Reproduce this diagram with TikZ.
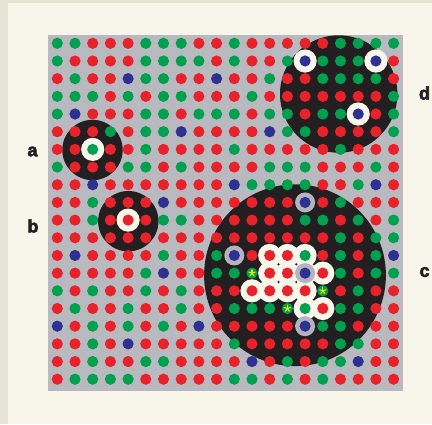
\documentclass[tikz,border=0pt]{standalone}
\usepackage{fontspec}
\newfontfamily\labfont[BoldFeatures={FakeBold=3}]{Liberation Sans}
\definecolor{cream}{HTML}{F8F6EA}
\definecolor{edge}{HTML}{E6E4D5}
\definecolor{plate}{HTML}{B9BABF}
\definecolor{dR}{HTML}{E8222A}
\definecolor{dG}{HTML}{00A04F}
\definecolor{dB}{HTML}{2E3192}
\definecolor{blk}{HTML}{231F20}
\definecolor{ringgray}{HTML}{B3B4BE}
\definecolor{staryellow}{HTML}{F2E600}
\tikzset{
  lab/.style={font=\labfont\bfseries\fontsize{18}{18}\selectfont, text=blk, inner sep=0pt},
  hole/.style={fill=blk},
  whitering/.style={fill=cream},
  grayring/.style={fill=ringgray},
  starline/.style={draw=staryellow, line width=1.1pt, line cap=round}
}
\begin{document}
\begin{tikzpicture}[x=1pt,y=-1pt]
\useasboundingbox (0,0) rectangle (432,424);
\fill[cream] (0,0) rectangle (432,424);
\fill[edge] (0,0) rectangle (432,3);
\fill[edge] (0,0) rectangle (8,424);
% plate
\fill[plate] (48.3,34.5) rectangle (402.7,390.5);
\begin{scope}
\clip (48.3,34.5) rectangle (402.7,390.5);
\fill[hole] (92.5,150) circle[radius=30.2pt];
\fill[hole] (128.3,221.2) circle[radius=30.2pt];
\fill[hole] (338.7,94) circle[radius=58.7pt];
\fill[hole] (295,275.2) circle[radius=90.9pt];
\end{scope}
% grid scope
\begin{scope}[x=17.7pt, y=-17.68pt, shift={(39.6pt,-25.62pt)}]
\foreach \i/\j in {3/7,5/11,15/2,19/2,18/5,
  13/13,14/13,15/13,13/14,14/14,15/14,16/14,12/15,13/15,14/15,15/15,15/16,16/16}
  \fill[whitering] (\i,\j) circle[radius=11.6pt];
\foreach \i/\j in {15/10,11/13,15/14,15/17}
  \fill[grayring] (\i,\j) circle[radius=10pt];
\foreach \r [count=\j] in {
 {G,G,R,R,R,G,G,G,R,R,G,R,R,R,R,R,G,G,G,G},
 {G,R,R,R,R,G,G,G,G,R,G,R,R,G,B,G,G,G,B,R},
 {R,G,R,R,B,G,G,R,R,B,R,R,G,R,R,G,G,G,G,R},
 {G,G,G,R,G,R,G,G,R,R,R,G,R,R,R,R,R,R,R,G},
 {G,B,R,R,R,G,G,R,G,G,G,R,G,G,R,G,G,B,R,G},
 {R,R,R,G,R,G,G,B,R,R,R,R,B,G,G,R,R,R,R,G},
 {R,R,G,R,R,G,R,R,R,R,G,R,R,R,R,R,G,R,R,R},
 {G,R,R,R,G,G,R,G,R,R,R,R,G,G,G,R,R,R,G,R},
 {R,R,B,R,R,R,R,R,R,R,B,G,G,G,G,R,R,G,B,R},
 {R,R,G,R,R,R,B,R,R,R,R,R,R,R,B,R,G,R,R,R},
 {R,R,G,R,R,R,G,G,R,R,R,R,R,R,G,G,R,G,R,G},
 {R,R,R,R,R,R,R,R,R,R,R,R,R,R,R,R,G,R,G,G},
 {R,B,R,R,R,R,G,R,R,G,B,R,R,R,G,R,G,R,G,B},
 {R,R,R,R,R,G,B,R,R,G,G,G,R,R,B,R,G,R,G,G},
 {G,R,G,R,R,G,R,G,R,R,R,R,R,R,R,G,R,G,R,R},
 {R,G,R,R,G,R,R,G,R,R,G,G,G,G,G,R,G,G,R,R},
 {B,R,G,R,G,R,G,R,B,R,R,R,R,R,B,G,G,R,R,R},
 {R,R,G,R,B,R,R,R,R,R,G,R,R,R,R,R,G,G,R,R},
 {R,R,G,R,R,G,G,R,R,R,R,B,R,G,R,G,G,B,R,R},
 {R,G,G,G,G,R,R,R,R,R,G,G,R,G,R,G,R,R,R,R}}
{
  \foreach \c [count=\i] in \r
    \fill[fill=d\c] (\i,\j) circle[radius=5.6pt];
}
\foreach \i/\j in {12/14,16/15,14/16}
  \foreach \a in {90,162,234,306,18}
    \draw[starline] (\i,\j) -- ++(\a:3.3pt);
\end{scope}
% labels
\node[lab] (la) at (32.5,151.5) {a};
\node[lab] (lb) at (33,226) {b};
\node[lab] (lc) at (424.5,272) {c};
\node[lab] (ld) at (424.5,93) {d};
\end{tikzpicture}
\end{document}
